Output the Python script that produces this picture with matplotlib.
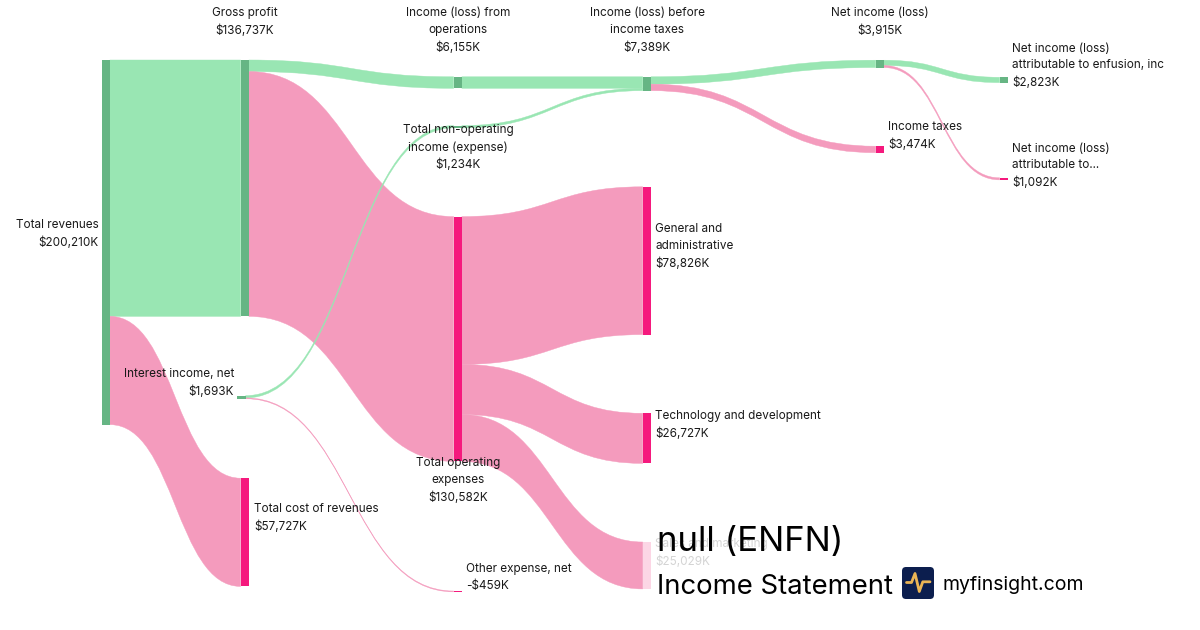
import matplotlib
matplotlib.use("Agg")
import matplotlib.pyplot as plt
from matplotlib.path import Path
from matplotlib.patches import PathPatch, Rectangle, FancyBboxPatch

plt.rcParams['font.family'] = ['Inter', 'DejaVu Sans']

# ---------------- data ----------------
node_names = [
    "Total revenues", "Gross profit", "Interest income, net", "Total cost of revenues",
    "Income (loss) from\noperations", "Total non-operating\nincome (expense)",
    "Total operating\nexpenses", "Other expense, net",
    "Income (loss) before\nincome taxes", "General and\nadministrative",
    "Technology and development", "Sales and marketing",
    "Net income (loss)", "Income taxes",
    "Net income (loss)\nattributable to enfusion, inc", "Net income (loss)\nattributable to...",
]
node_values = [200210, 136737, 1693, 57727, 6155, 1234, 130582, -459,
               7389, 78826, 26727, 25029, 3915, 3474, 2823, 1092]
node_is_income = [True, True, True, False, True, True, False, False,
                  True, False, False, False, True, False, True, False]

link_sources = [0, 0, 1, 1, 6, 6, 6, 4, 8, 8, 12, 12, 2, 2, 5]
link_targets = [1, 3, 4, 6, 9, 10, 11, 8, 12, 13, 14, 15, 5, 7, 8]
link_values = [136737, 57727, 6155, 130582, 78826, 26727, 25029, 6155,
               3915, 3474, 2823, 1092, 1234, 459, 1234]

title_line1 = "null (ENFN)"
title_line2 = "Income Statement"
brand = "myfinsight.com"

# ---------------- layout / style ----------------
PX_PER_K = 0.001875
NODE_W = 8.3
node_x = [101.6, 240.6, 237.4, 240.6, 453.6, 453.6, 453.6, 453.6,
          642.7, 642.7, 642.7, 642.7, 875.7, 875.7, 999.6, 999.6]
node_top = [60.0, 60.0, 395.6, 478.2, 76.8, 125.6, 216.6, 591.0,
            76.8, 186.8, 413.3, 542.0, 60.2, 146.2, 77.3, 177.8]
# label placement: (ha, x, top-y)
label_pos = [
    ("right", 98.3, 219.5), ("center", 245.0, 7.0), ("right", 234.0, 368.0),
    ("left", 254.0, 503.0), ("center", 458.0, 7.0), ("center", 458.0, 124.0),
    ("center", 458.0, 457.0), ("left", 466.0, 563.3), ("center", 647.0, 7.0),
    ("left", 655.0, 223.0), ("left", 655.0, 410.5), ("left", 655.0, 538.0),
    ("center", 880.0, 7.0), ("left", 888.0, 121.0), ("left", 1012.0, 42.5),
    ("left", 1012.0, 142.5),
]
LABEL_SIZE = 8.45
GREEN_LINK = "#99e6b3"
GREEN_NODE = "#66b584"
PINK_LINK = "#f49bbd"
PINK_NODE = "#f5197d"
FADED_NODE = "#fcd6e5"
faded_nodes = {11}
TEXT = "#1a1a1a"
FADED_TEXT = "#d4d4d4"


def fmt(v):
    s = "${:,}K".format(abs(v))
    return "-" + s if v < 0 else s


fig = plt.figure(figsize=(12, 6.3), dpi=100)
ax = fig.add_axes([0, 0, 1, 1])
ax.set_xlim(0, 1200)
ax.set_ylim(630, 0)
ax.axis("off")

# links
out_off = [0.0] * len(node_names)
in_off = [0.0] * len(node_names)
for s, t, v in zip(link_sources, link_targets, link_values):
    h = v * PX_PER_K
    x0 = node_x[s] + NODE_W
    x1 = node_x[t]
    y0t = node_top[s] + out_off[s]
    y1t = node_top[t] + in_off[t]
    out_off[s] += h
    in_off[t] += h
    y0b, y1b = y0t + h, y1t + h
    xm = (x0 + x1) / 2
    verts = [(x0, y0t), (xm, y0t), (xm, y1t), (x1, y1t), (x1, y1b),
             (xm, y1b), (xm, y0b), (x0, y0b), (x0, y0t)]
    codes = [Path.MOVETO, Path.CURVE4, Path.CURVE4, Path.CURVE4, Path.LINETO,
             Path.CURVE4, Path.CURVE4, Path.CURVE4, Path.CLOSEPOLY]
    col = GREEN_LINK if node_is_income[t] else PINK_LINK
    ax.add_patch(PathPatch(Path(verts, codes), facecolor=col, edgecolor=col,
                           linewidth=0.3, zorder=1))

# nodes
for i, (name, v) in enumerate(zip(node_names, node_values)):
    h = max(out_off[i], in_off[i])
    if i in faded_nodes:
        col = FADED_NODE
    else:
        col = GREEN_NODE if node_is_income[i] else PINK_NODE
    ax.add_patch(Rectangle((node_x[i], node_top[i]), NODE_W, h,
                           facecolor=col, edgecolor="none", zorder=2))
    ha, lx, ly = label_pos[i]
    ax.text(lx, ly, name + "\n" + fmt(v), ha=ha, va="top", fontsize=LABEL_SIZE,
            multialignment=ha, linespacing=1.55,
            color=FADED_TEXT if i in faded_nodes else TEXT, zorder=3)

# title block
ax.text(657, 551, title_line1, fontsize=25, color="black", ha="left",
        va="baseline", zorder=5)
ax.text(657, 593.5, title_line2, fontsize=19.8, color="black", ha="left",
        va="baseline", zorder=5)
ax.add_patch(FancyBboxPatch((902, 567), 32, 32,
                            boxstyle="round,pad=0,rounding_size=4",
                            facecolor="#0c1e4e", edgecolor="none", zorder=5))
ax.plot([906.5, 911.5, 915, 919.3, 922.8, 930], [582.5, 582.5, 573.5, 591.5, 581.8, 581.8],
        color="#ebb555", linewidth=2.0, solid_capstyle="round",
        solid_joinstyle="round", zorder=6)
ax.text(942, 590, brand, fontsize=14, color="black", ha="left",
        va="baseline", zorder=5)

fig.savefig("out.png", dpi=100)
